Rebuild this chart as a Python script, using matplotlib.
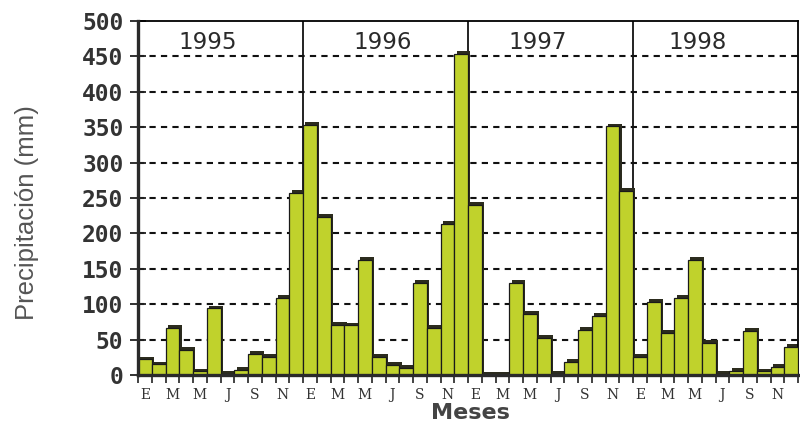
import numpy as np
import matplotlib
matplotlib.use('Agg')
import matplotlib.pyplot as plt

# monthly precipitation (mm)
p1995 = [22, 15, 67, 35, 5, 94, 2, 7, 30, 26, 109, 257]
p1996 = [353, 223, 71, 70, 163, 26, 14, 10, 130, 67, 213, 453]
p1997 = [240, 0, 0, 130, 86, 52, 2, 18, 64, 84, 351, 260]
p1998 = [26, 103, 60, 109, 162, 45, 2, 6, 62, 5, 11, 40]
years = ['1995', '1996', '1997', '1998']
month_labels = ['E', 'M', 'M', 'J', 'S', 'N']

values = np.array(p1995 + p1996 + p1997 + p1998)
x = np.arange(len(values))

fig = plt.figure(figsize=(8, 4.25), dpi=100)
ax = fig.add_axes([0.1725, 0.1176, 0.825, 0.833])

fill = '#c0d22c'
shadow = '#2c2c1e'

# dashed horizontal grid
for y in range(50, 500, 50):
    ax.axhline(y, color='#111111', lw=1.5, linestyle=(0, (3, 2.5)), zorder=1)

# year separators
for i in range(1, len(years)):
    ax.axvline(12 * i - 0.5, color='#111111', lw=1.3, zorder=1)

# bars with a small 3D shadow
ax.bar(x + 0.18, values + 4, width=1.0, color=shadow, zorder=2)
ax.bar(x, values, width=1.0, color=fill, edgecolor='#1a1a1a', lw=0.9, zorder=3)

# year labels
year_pos = [4.6, 17.3, 28.6, 40.2]
for xp, yr in zip(year_pos, years):
    ax.text(xp, 470, yr, ha='center', va='center', fontsize=16.5,
            color='#2a2a2a', family='DejaVu Sans', zorder=4)

ax.set_xlim(-0.5, 47.5)
ax.set_ylim(0, 500)

ax.set_yticks(range(0, 501, 50))
ax.set_yticklabels([str(v) for v in range(0, 501, 50)],
                   family='DejaVu Sans Mono', fontweight='bold',
                   fontsize=16.5, color='#333333')
ax.tick_params(axis='y', direction='inout', length=11, width=1.3,
               pad=5, color='#222222')

ax.set_xticks(np.arange(0, 48, 2))
ax.set_xticklabels(month_labels * 4, family='DejaVu Serif',
                   fontsize=10, color='#333333')
ax.set_xticks(np.arange(-0.5, 48, 1), minor=True)
ax.tick_params(axis='x', which='major', length=0, pad=9)
ax.tick_params(axis='x', which='minor', direction='out', length=6,
               width=1.2, color='#222222')

for side in ['left', 'bottom']:
    ax.spines[side].set_linewidth(2.4)
    ax.spines[side].set_color('#2a2a2a')
    ax.spines[side].set_zorder(5)
ax.spines['top'].set_linewidth(1.3)
ax.spines['right'].set_linewidth(1.3)

fig.text(27 / 800, 1 - 213 / 425, 'Precipitación (mm)', rotation=90,
         ha='center', va='center', fontsize=18.5, color='#555555',
         family='Liberation Sans')
fig.text(470 / 800, 1 - 413 / 425, 'Meses', ha='center', va='center',
         fontsize=16, fontweight='bold', color='#444444',
         family='DejaVu Sans')

fig.savefig('out.png', dpi=100)
